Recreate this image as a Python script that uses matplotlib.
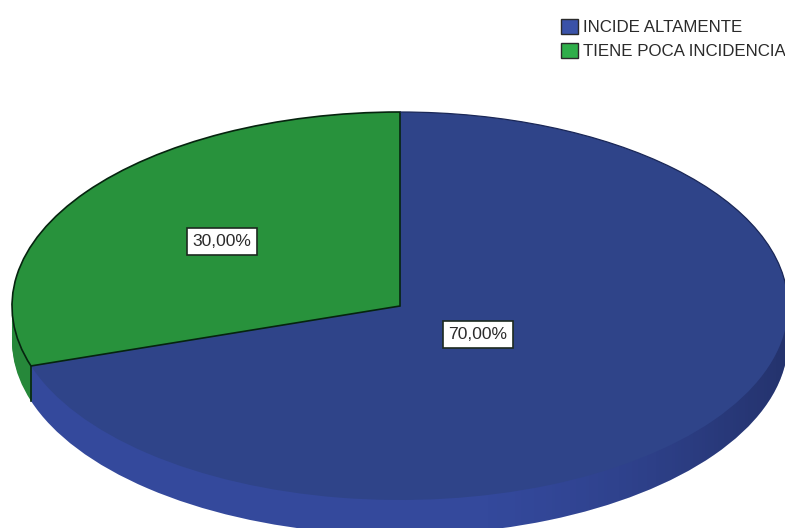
import matplotlib
matplotlib.use("Agg")
import matplotlib.pyplot as plt
import numpy as np
from matplotlib.patches import Arc, Patch

categories = ["INCIDE ALTAMENTE", "TIENE POCA INCIDENCIA"]
values = [70.0, 30.0]
top_colors = ["#2f4489", "#28923c"]
side_colors = ["#34499c", "#26883a"]
label_radius = [0.248, 0.567]

# pixel-like axes, y doubled so that the pie comes out flattened 2:1
W, H = 785, 528
cx, cy = 400, (H - 306) * 2
r = 388
depth = 35 * 2

plt.rcParams["font.family"] = ["Liberation Sans", "DejaVu Sans"]

fig = plt.figure(figsize=(W / 100, H / 100), dpi=100)
ax = fig.add_axes([0, 0, 1, 1])


def draw_pie(offset, colors, zorder):
    wedges, _ = ax.pie(values, colors=colors, startangle=90, counterclock=False,
                       center=(cx, cy - offset), radius=r,
                       wedgeprops={"linewidth": 0, "zorder": zorder})
    return wedges


# side wall, green first so the blue part sits over it at the cut
low = None
for d in np.arange(depth, 0, -4):
    wedges = draw_pie(d, side_colors, 1)
    wedges[1].set_zorder(1)
    wedges[0].set_zorder(2)
    if low is None:
        low = wedges

# wall gets darker towards the right
shade = np.zeros((1, 256, 4))
shade[0, :, 3] = np.clip((np.linspace(0, 1, 256) - 0.6) / 0.4, 0, 1) ** 1.5 * 0.3
img = ax.imshow(shade, extent=(0, W, 0, H * 2), aspect="auto", zorder=3)
img.set_clip_path(low[0])

# top face
top = draw_pie(0, top_colors, 4)

# outline: whole green slice plus upper blue arc and the wall cut
top[1].set_edgecolor("#06240f")
top[1].set_linewidth(1.2)
top[1].set_zorder(5)
ax.add_patch(Arc((cx, cy), 2 * r, 2 * r, theta1=0, theta2=90,
                 color="#1a2757", lw=0.9, zorder=5))
cut = np.deg2rad(90 + values[1] / 100 * 360)
cut_x = cx + r * np.cos(cut)
cut_y = cy + r * np.sin(cut)
ax.plot([cut_x, cut_x], [cut_y, cut_y - depth], color="#06240f", lw=1.2, zorder=5)

# percentage boxes on the slice mid angles
angle = 90.0
for i, v in enumerate(values):
    sweep = v / 100 * 360
    mid = angle - sweep / 2 if i == 0 else 90 + sweep / 2
    a = np.deg2rad(mid)
    ax.text(cx + label_radius[i] * r * np.cos(a), cy + label_radius[i] * r * np.sin(a),
            f"{v:.2f}%".replace(".", ","), ha="center", va="center",
            fontsize=12.6, color="#2a2a2a", zorder=6,
            bbox={"boxstyle": "square,pad=0.33", "fc": "white", "ec": "#1c2a20", "lw": 1.2})

handles = [Patch(facecolor=c, edgecolor="#2a2a2a", linewidth=1.0)
           for c in ["#3a52a8", "#2fae4a"]]
ax.legend(handles, categories, loc="upper left", bbox_to_anchor=(556 / W, 1 - 14 / H),
          frameon=False, fontsize=12.2, handlelength=1.0, handleheight=1.0,
          handletextpad=0.3, labelspacing=0.42, borderpad=0.3, borderaxespad=0,
          labelcolor="#2a2a2a")

ax.set_xlim(0, W)
ax.set_ylim(0, H * 2)
ax.set_aspect("auto")
ax.axis("off")

fig.savefig("out.png", dpi=100)
